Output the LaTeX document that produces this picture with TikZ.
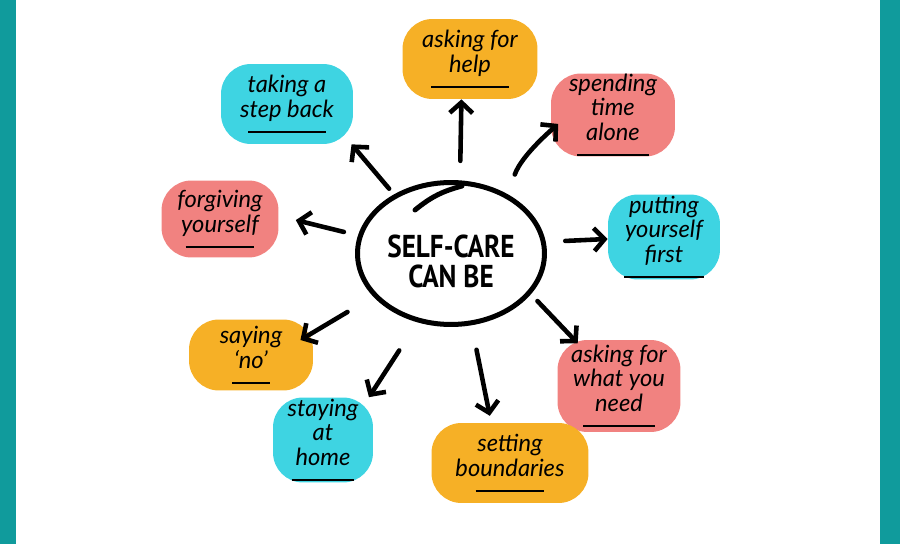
\documentclass[tikz,border=0pt]{standalone}
\usepackage{fontspec}
\setmainfont{Lato}
\newfontfamily\capsfont[FakeStretch=0.86]{PT Sans}
\usetikzlibrary{arrows.meta,shapes.geometric}
\definecolor{frameteal}{RGB}{16,155,156}
\definecolor{blobcyan}{RGB}{62,212,226}
\definecolor{bloborange}{RGB}{246,176,38}
\definecolor{blobpink}{RGB}{241,130,128}
\newcommand{\markline}[1]{\rule{#1}{1.1pt}}
\tikzset{
  blob/.style={fill=#1, rounded corners=0.6cm, align=center, inner sep=0pt,
    font=\itshape\fontsize{13.5}{14}\selectfont},
  arr/.style={line width=2.6pt, line cap=round, -{Straight Barb[length=6pt,width=13pt]}}
}
\begin{document}
\begin{tikzpicture}[x=0.02cm,y=-0.02cm]
\useasboundingbox (0,0) rectangle (900,544);
\fill[frameteal] (0,0) rectangle (16,544);
\fill[frameteal] (880,0) rectangle (900,544);
\node[ellipse, draw, line width=0.1cm, minimum width=3.74cm, minimum height=2.84cm, inner sep=0pt,
  label={[align=center, yshift=-0.16cm, font=\capsfont\bfseries\fontsize{18}{17.5}\selectfont]center:SELF-CARE\\CAN BE}]
  (selfcare) at (451,253.5) {};
\draw[line width=0.1cm, line cap=round] (415,210) to[bend left=12] (462,186);
\node[blob=bloborange, minimum width=2.7cm, minimum height=1.6cm] (help) at (470,59) {asking for\\help\\[-5pt]\markline{1.56cm}};
\node[blob=blobcyan, minimum width=2.64cm, minimum height=1.6cm] (stepback) at (287,104) {taking a\\step back\\[-5pt]\markline{1.56cm}};
\node[blob=blobpink, minimum width=2.48cm, minimum height=1.66cm] (alone) at (613,115) {spending\\time\\alone\\[-5pt]\markline{1.44cm}};
\node[blob=blobpink, minimum width=2.34cm, minimum height=1.54cm] (forgive) at (220,219) {forgiving\\yourself\\[-5pt]\markline{1.38cm}};
\node[blob=blobcyan, minimum width=2.24cm, minimum height=1.7cm] (first) at (664,237) {putting\\yourself\\first\\[-5pt]\markline{1.6cm}};
\node[blob=bloborange, minimum width=2.48cm, minimum height=1.42cm] (sayno) at (251,355) {saying\\`no'\\[-5pt]\markline{0.76cm}};
\node[blob=blobpink, minimum width=2.46cm, minimum height=1.84cm] (need) at (619,386) {asking for\\what you\\need\\[-5pt]\markline{1.44cm}};
\node[blob=blobcyan, minimum width=2.0cm, minimum height=1.7cm] (home) at (323,440) {staying\\at\\home\\[-5pt]\markline{1.26cm}};
\node[blob=bloborange, minimum width=3.14cm, minimum height=1.6cm] (bounds) at (510,463) {setting\\boundaries\\[-5pt]\markline{1.38cm}};
\draw[arr, shorten <=0.39cm] (selfcare.83) -- (help.-102);
\draw[arr, shorten <=0.15cm] (selfcare.134) -- (stepback.-32);
\draw[arr, shorten <=0.42cm, shorten >=-0.2cm] (selfcare.46) to[bend left=15] (alone.-166);
\draw[arr, shorten <=0.29cm, shorten >=0.35cm] (selfcare.169) -- (forgive.3);
\draw[arr, shorten <=0.39cm] (selfcare.7) -- (first.182);
\draw[arr, shorten <=0.19cm, shorten >=-0.1cm] (selfcare.-27) -- (need.134);
\draw[arr, shorten <=0.6cm, shorten >=-0.3cm] (selfcare.209) -- (sayno.20);
\draw[arr, shorten <=0.67cm] (selfcare.244) -- (home.43);
\draw[arr, shorten <=0.5cm, shorten >=0.14cm] (selfcare.-74) -- (bounds.115);
\end{tikzpicture}
\end{document}
